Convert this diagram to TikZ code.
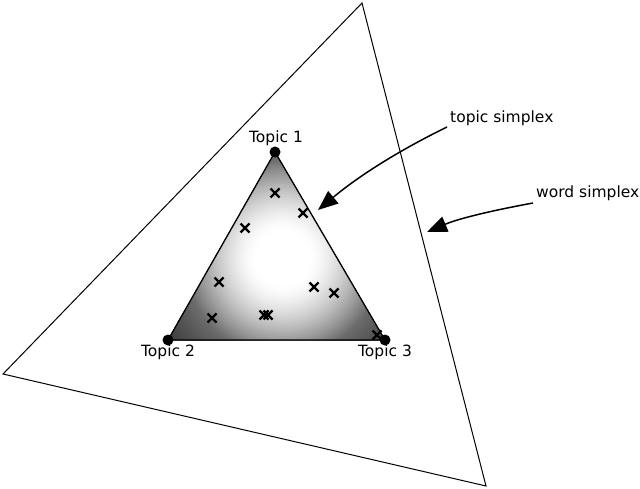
\documentclass[tikz,border=0pt]{standalone}
\usepackage{fontspec}
\setmainfont{DejaVu Sans}
\usetikzlibrary{arrows.meta}
\tikzset{
  simplexline/.style={line width=1pt, black},
  innerline/.style={line width=1.3pt, black},
  vertexdot/.style={circle, fill=black, inner sep=0pt, minimum size=11pt},
  lbl/.style={font=\fontsize{15.5}{17}\selectfont, inner sep=0pt},
  xmark/.style={line width=2.2pt, black},
  pointer/.style={line width=1.5pt, -{Triangle[length=20pt,width=16pt]}}
}
\newcommand{\xm}[2]{\draw[xmark] (#1-4.5,#2-4.5) -- (#1+4.5,#2+4.5) (#1-4.5,#2+4.5) -- (#1+4.5,#2-4.5);}
\begin{document}
\begin{tikzpicture}[x=1pt,y=-1pt]
\useasboundingbox (0,0) rectangle (640,489);
% outer word simplex
\coordinate (w1) at (362,3);
\coordinate (w2) at (3,374);
\coordinate (w3) at (486,486);
\draw[simplexline] (w1) -- (w2) -- (w3) -- cycle;
% inner topic simplex
\coordinate (t1) at (275,152);
\coordinate (t2) at (168,340);
\coordinate (t3) at (385,340);
\coordinate (sc) at (283,258);
\begin{scope}
  \clip (t1) -- (t2) -- (t3) -- cycle;
  \foreach \i in {0,...,75} {
    \pgfmathsetmacro{\rr}{150-2*\i}
    \pgfmathsetmacro{\tt}{max(min((\rr-28)/72,1),0)}
    \pgfmathsetmacro{\pp}{58*\tt*sqrt(\tt)+0.45*max(\rr-100,0)}
    \fill[black!\pp!white] (sc) circle (\rr);
  }
\end{scope}
\draw[innerline] (t1) -- (t2) -- (t3) -- cycle;
% samples
\xm{275}{193}
\xm{303}{213}
\xm{245}{228}
\xm{219}{282}
\xm{314}{287}
\xm{334}{293}
\xm{212}{318}
\xm{264}{315}
\xm{268}{315}
\xm{377}{335}
% vertices
\node[vertexdot] (v1) at (t1) {};
\node[vertexdot] (v2) at (t2) {};
\node[vertexdot] (v3) at (t3) {};
\node[lbl] (l1) at (276,138) {Topic 1};
\node[lbl] (l2) at (168,352) {Topic 2};
\node[lbl] (l3) at (385,352) {Topic 3};
% annotations
\node[lbl, anchor=west] (ts) at (450,118) {topic simplex};
\node[lbl, anchor=west] (ws) at (536,193) {word simplex};
\coordinate (tsstart) at (447,127);
\coordinate (tstip) at (318,210);
\coordinate (wsstart) at (533,203);
\coordinate (wstip) at (427,232);
\draw[pointer] (tsstart) .. controls (400,150) and (360,175) .. (tstip);
\draw[pointer] (wsstart) .. controls (495,210) and (460,218) .. (wstip);
\end{tikzpicture}
\end{document}
